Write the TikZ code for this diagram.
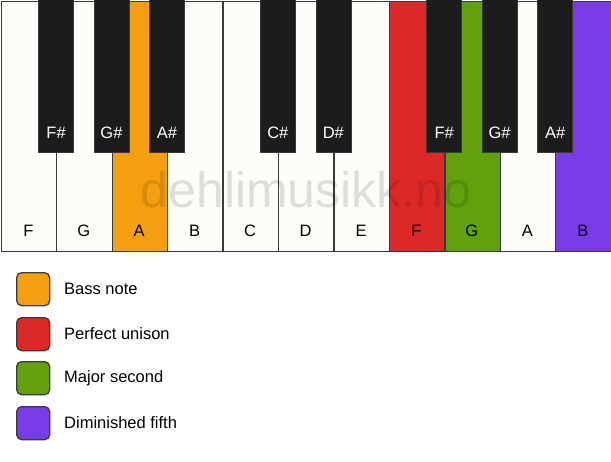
\documentclass[tikz,border=0pt]{standalone}
\usepackage{fontspec}
\setmainfont{Liberation Sans}
\definecolor{keywhite}{HTML}{FDFCF9}
\definecolor{keyblack}{HTML}{1C1C1C}
\definecolor{keyedge}{HTML}{3A3A3A}
\definecolor{cbass}{HTML}{F39F0F}
\definecolor{cunison}{HTML}{DD2828}
\definecolor{csecond}{HTML}{62A10E}
\definecolor{cfifth}{HTML}{7A3BE8}
\tikzset{
  whitekey/.style={draw=keyedge, line width=1.3pt, fill=keywhite, minimum width=55.5pt, minimum height=250pt, inner sep=0pt, anchor=north west},
  blackkey/.style={draw=keyedge, line width=0.6pt, fill=keyblack, minimum width=35pt, minimum height=153pt, inner sep=0pt, anchor=north},
  wlabel/.style={font=\fontsize{16.5}{16.5}\selectfont, text=black, anchor=center},
  blabel/.style={font=\fontsize{16.5}{16.5}\selectfont, text=white, anchor=center},
  legendbox/.style={draw=keyedge, line width=1.3pt, rounded corners=5pt, minimum width=33pt, minimum height=33pt, inner sep=0pt, anchor=north west},
  legendtext/.style={font=\fontsize{16.5}{16.5}\selectfont, anchor=west, inner sep=0pt}
}
\begin{document}
\begin{tikzpicture}[x=1pt,y=-1pt]
\useasboundingbox (0,0) rectangle (611,461);
\fill[white] (0,0) rectangle (611,461);
% white keys
\foreach \i/\n/\c in {0/F/keywhite,1/G/keywhite,2/A/cbass,3/B/keywhite,4/C/keywhite,5/D/keywhite,6/E/keywhite,7/F/cunison,8/G/csecond,9/A/keywhite,10/B/cfifth}{
  \node[whitekey, fill=\c] (w\i) at ({0.6+\i*55.45},0.6) {};
  \node[wlabel] (wl\i) at ({0.6+\i*55.45+27.7},230.5) {\n};
}
% watermark
\node[font=\fontsize{50}{50}\selectfont, text=black, opacity=0.12, anchor=base] (wm) at (306,207) {dehlimusikk.no};
% black keys
\foreach \i/\n in {1/F\#,2/G\#,3/A\#,5/C\#,6/D\#,8/F\#,9/G\#,10/A\#}{
  \node[blackkey] (b\i) at ({0.6+\i*55.45},-1) {};
  \node[blabel] (bl\i) at ({0.6+\i*55.45},133) {\n};
}
% legend
\node[legendbox, fill=cbass] (l1) at (16,272) {};
\node[legendtext] (t1) at (64,289) {Bass note};
\node[legendbox, fill=cunison] (l2) at (16,317) {};
\node[legendtext] (t2) at (64,334) {Perfect unison};
\node[legendbox, fill=csecond] (l3) at (16,361) {};
\node[legendtext] (t3) at (64,378) {Major second};
\node[legendbox, fill=cfifth] (l4) at (16,406) {};
\node[legendtext] (t4) at (64,423) {Diminished fifth};
\end{tikzpicture}
\end{document}
